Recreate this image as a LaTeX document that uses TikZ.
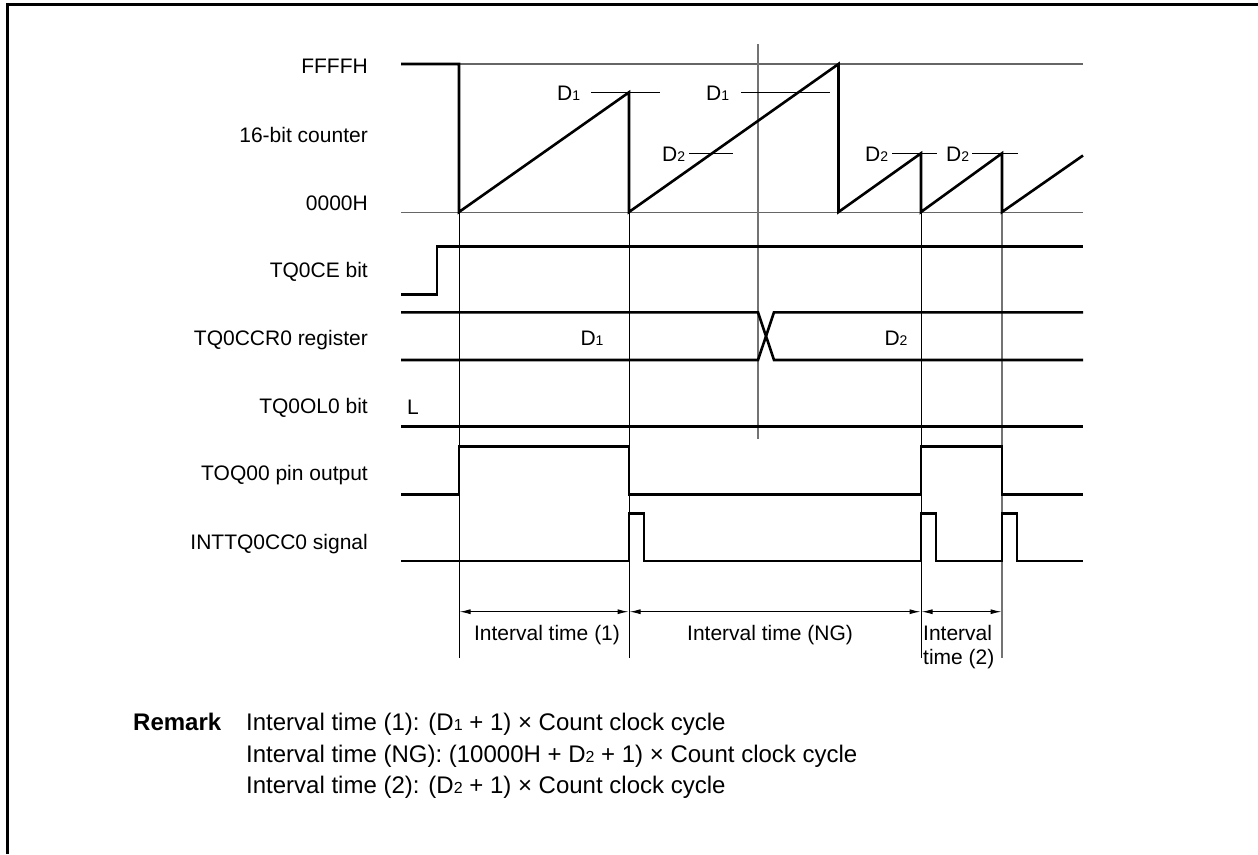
\documentclass[tikz,border=0pt]{standalone}
\usepackage{fontspec}
\setmainfont{Liberation Sans}
\usetikzlibrary{arrows.meta}
\newcommand\dsub[1]{{\fontsize{14}{14}\selectfont #1}}
\newcommand\rsub[1]{{\fontsize{16}{16}\selectfont #1}}
\begin{document}
\begin{tikzpicture}[x=1pt,y=-1pt,
  sig/.style={line width=2.6pt, line join=miter},
  guide/.style={line width=1.1pt, black!60},
  vline/.style={line width=1pt, black},
  gvline/.style={line width=1.4pt, black!55},
  lbl/.style={anchor=base east, inner sep=0pt, font=\fontsize{21}{25}\selectfont},
  txt/.style={inner sep=0pt, font=\fontsize{21}{25}\selectfont},
  rtxt/.style={inner sep=0pt, anchor=base west, font=\fontsize{24}{28}\selectfont},
  dimarrow/.style={line width=1pt, {Latex[length=11pt,width=5pt]}-{Latex[length=11pt,width=5pt]}}]
\useasboundingbox (0,0) rectangle (1258,854);
% frame
\draw[line width=3pt] (7,854) -- (7,4.5) -- (1258,4.5);

% left labels
\node[lbl] (lffff) at (368,73.5) {FFFFH};
\node[lbl] (lcnt) at (368,142.5) {16-bit counter};
\node[lbl] (l0000) at (368,210) {0000H};
\node[lbl] (lce) at (368,277.5) {TQ0CE bit};
\node[lbl] (lccr) at (368,345) {TQ0CCR0 register};
\node[lbl] (lol) at (368,413.5) {TQ0OL0 bit};
\node[lbl] (ltoq) at (368,480.5) {TOQ00 pin output};
\node[lbl] (lint) at (368,549) {INTTQ0CC0 signal};

% counter guide lines
\draw[guide] (459,64) -- (1083,64);
\draw[guide] (401,212.5) -- (1083,212.5);

% vertical reference lines
\draw[vline] (459,212) -- (459,658);
\draw[vline] (629,212) -- (629,658);
\draw[vline] (921,212) -- (921,658);
\draw[gvline] (1002,212) -- (1002,658);
\draw[gvline] (758,44) -- (758,439);

% D level marks
\draw[vline] (591,92.3) -- (660,92.3);
\draw[vline] (741,92.3) -- (830,92.3);
\draw[vline] (689,153.3) -- (733,153.3);
\draw[vline] (892,153.3) -- (937,153.3);
\draw[vline] (972,153.3) -- (1018,153.3);
\node[txt, anchor=base west] (d1a) at (557,100) {D\dsub{1}};
\node[txt, anchor=base west] (d1b) at (706,100) {D\dsub{1}};
\node[txt, anchor=base west] (d2a) at (662,161) {D\dsub{2}};
\node[txt, anchor=base west] (d2b) at (865,161) {D\dsub{2}};
\node[txt, anchor=base west] (d2c) at (946,161) {D\dsub{2}};

% counter waveform
\draw[sig] (401,64) -- (459,64) -- (459,212) -- (629,92.3) -- (629,212)
  -- (838.5,64) -- (838.5,212) -- (921,153.3) -- (921,212) -- (1002,153.3)
  -- (1002,212) -- (1083,155.5);

% TQ0CE bit
\draw[sig] (401,294.3) -- (437,294.3) -- (437,246.7) -- (1083,246.7);

% TQ0CCR0 register
\draw[sig] (401,312.3) -- (758,312.3) -- (774,360) -- (1083,360);
\draw[sig] (401,360) -- (758,360) -- (774,312.3) -- (1083,312.3);
\node[txt, anchor=base] (rd1) at (592,345.5) {D\dsub{1}};
\node[txt, anchor=base] (rd2) at (896,345.5) {D\dsub{2}};

% TQ0OL0 bit
\draw[sig] (401,426.7) -- (1083,426.7);
\node[txt, anchor=base] (lL) at (413,414) {L};

% TOQ00 pin output
\draw[sig] (401,494.5) -- (459,494.5) -- (459,446.7) -- (629,446.7) -- (629,494.5)
  -- (921,494.5) -- (921,446.7) -- (1002,446.7) -- (1002,494.5) -- (1083,494.5);

% INTTQ0CC0 signal
\draw[sig] (401,561) -- (629,561) -- (629,513.3) -- (644,513.3) -- (644,561)
  -- (921,561) -- (921,513.3) -- (936,513.3) -- (936,561)
  -- (1002,561) -- (1002,513.3) -- (1017,513.3) -- (1017,561) -- (1083,561);

% interval arrows
\draw[dimarrow] (459.5,611.7) -- (628.5,611.7);
\draw[dimarrow] (629.5,611.7) -- (920.5,611.7);
\draw[dimarrow] (921.5,611.7) -- (1001.5,611.7);
\node[txt, anchor=base] (i1) at (547,640.5) {Interval time (1)};
\node[txt, anchor=base] (ing) at (770,640.5) {Interval time (NG)};
\node[txt, anchor=base west] (i2a) at (923,640.5) {Interval};
\node[txt, anchor=base west] (i2b) at (923,664.5) {time (2)};

% remark
\node[rtxt, font=\fontsize{24}{28}\selectfont\bfseries] (rem) at (133,730.5) {Remark};
\node[rtxt] (r1) at (246,730.5) {Interval time (1): (D\rsub{1} + 1) × Count clock cycle};
\node[rtxt] (r2) at (246,762) {Interval time (NG): (10000H + D\rsub{2} + 1) × Count clock cycle};
\node[rtxt] (r3) at (246,793.5) {Interval time (2): (D\rsub{2} + 1) × Count clock cycle};
\end{tikzpicture}
\end{document}
